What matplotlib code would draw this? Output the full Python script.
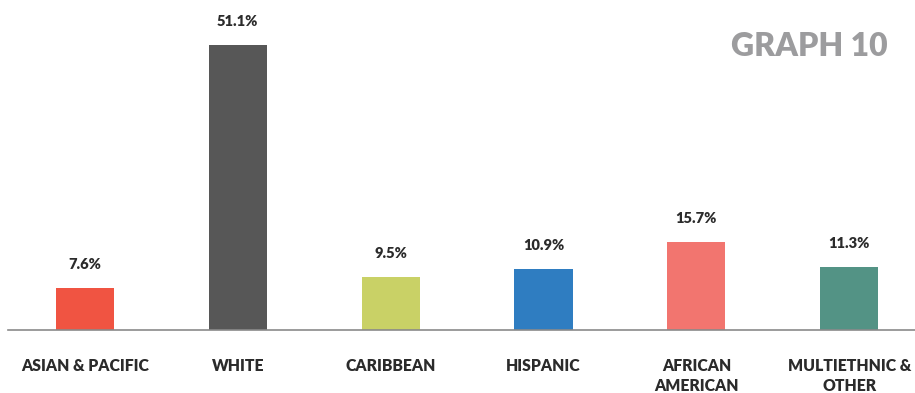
import matplotlib
matplotlib.use("Agg")
import matplotlib.pyplot as plt

categories = ["ASIAN & PACIFIC", "WHITE", "CARIBBEAN", "HISPANIC",
              "AFRICAN\nAMERICAN", "MULTIETHNIC &\nOTHER"]
values = [7.6, 51.1, 9.5, 10.9, 15.7, 11.3]
colors = ["#F05442", "#575757", "#C9D166", "#2F7DC1", "#F2756F", "#539385"]
title = "GRAPH 10"

plt.rcParams["font.family"] = ["Lato", "DejaVu Sans"]

fig = plt.figure(figsize=(9.15, 3.93), dpi=100)
ax = fig.add_axes([8 / 915, 63 / 393, 1 - 8 / 915, 330 / 393])

x = range(len(categories))
ax.bar(x, values, width=0.38, color=colors, zorder=2)

for xi, v in zip(x, values):
    ax.annotate(f"{v}%", (xi, v), xytext=(0, 17), textcoords="offset points",
                ha="center", va="center", fontsize=10.5, fontweight="heavy",
                color="#2b2b2b")

ax.set_xlim(-0.503, 5.43)
ax.set_ylim(0, 59.2)
ax.set_yticks([])
ax.set_xticks(list(x))
ax.set_xticklabels(categories, fontsize=11.3, fontweight="heavy",
                   color="#2b2b2b", linespacing=1.35, va="top")
ax.tick_params(axis="x", length=0, pad=20)
for s in ("top", "right", "left"):
    ax.spines[s].set_visible(False)
ax.spines["bottom"].set_color("#8a8a8a")
ax.spines["bottom"].set_linewidth(1.2)
ax.patch.set_alpha(0)

fig.text(888 / 915, 1 - 47 / 393, title, ha="right", va="center",
         fontsize=23, fontweight="heavy", color="#9c9c9e")

fig.savefig("out.png", dpi=100)
